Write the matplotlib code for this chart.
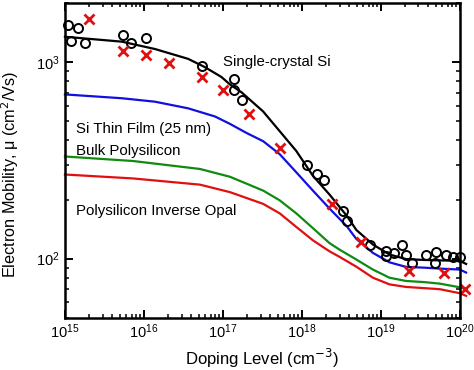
import numpy as np
import matplotlib
matplotlib.use("Agg")
import matplotlib.pyplot as plt
from matplotlib.ticker import LogLocator, NullFormatter

plt.rcParams['font.family'] = ['Liberation Sans', 'DejaVu Sans']

# measured single-crystal Si (circles), log10 of doping level and mobility
circ_logN = [15.04, 15.17, 15.08, 15.25, 15.73, 15.84, 16.03, 16.74, 17.14, 17.14,
             17.24, 18.07, 18.19, 18.28, 18.52, 18.57, 18.86, 19.06, 19.07, 19.17,
             19.27, 19.32, 19.40, 19.57, 19.68, 19.70, 19.82, 19.92, 20.00]
circ_mu = [1540, 1500, 1275, 1245, 1371, 1250, 1320, 955, 825, 722,
           644, 301, 269, 252, 174, 155, 117, 109, 103.5, 107,
           117, 105, 95, 105, 95, 108, 105, 102, 102]

# second data set (red crosses)
cross_logN = [15.30, 15.73, 16.03, 16.32, 16.73, 17.00, 17.33, 17.72, 18.38, 18.75,
              19.36, 19.80, 20.07]
cross_mu = [1653, 1136, 1088, 991, 841, 722, 546, 366, 190, 122, 87, 84.7, 70.5]

# model curves
sc_logN = [15.0, 15.72, 16.14, 16.56, 16.77, 16.98, 17.09, 17.24, 17.51, 17.72,
           17.93, 18.14, 18.35, 18.57, 18.69, 18.90, 19.11, 19.32, 19.55, 19.75,
           20.0, 20.08]
sc_mu = [1346, 1271, 1166, 1039, 944, 841, 770, 700, 561, 445,
         353, 264, 212, 165, 140, 118, 105, 99.5, 98.5, 98,
         97.5, 94]

tf_logN = [15.0, 15.72, 16.14, 16.56, 16.90, 17.09, 17.30, 17.51, 17.72, 17.93,
           18.14, 18.35, 18.57, 18.69, 18.90, 19.11, 19.32, 19.55, 19.75, 20.0, 20.08]
tf_mu = [685, 655, 629, 582, 529, 485, 436, 396, 340, 275,
         222, 180, 146, 126, 107, 95.8, 90.8, 90, 89, 88, 85]

bulk_logN = [15.0, 15.86, 16.71, 17.09, 17.51, 17.72, 17.93, 18.14, 18.35, 18.48,
             18.69, 18.90, 19.11, 19.32, 19.55, 19.75, 20.0, 20.08]
bulk_mu = [331, 314, 286, 261, 222, 198, 170, 143, 120, 111,
           99, 88, 80, 77, 76, 74.6, 71.5, 70]

opal_logN = [15.0, 15.86, 16.71, 17.09, 17.51, 17.72, 17.93, 18.14, 18.35, 18.48,
             18.69, 18.90, 19.11, 19.32, 19.55, 19.75, 20.0, 20.08]
opal_mu = [268, 256, 238, 218, 190, 170, 145, 124, 109, 102,
           91, 80, 74, 71.8, 70.8, 69.9, 66.7, 64.7]

fig = plt.figure(figsize=(4.74, 3.70), dpi=100)
ax = fig.add_axes([0.137, 0.141, 0.833, 0.851])

def tenpow(v):
    return 10.0 ** np.array(v)

ax.plot(tenpow(sc_logN), sc_mu, color='black', lw=1.6, clip_on=False)
ax.plot(tenpow(tf_logN), tf_mu, color='#1010e0', lw=1.6, clip_on=False)
ax.plot(tenpow(bulk_logN), bulk_mu, color='#108a10', lw=1.6, clip_on=False)
ax.plot(tenpow(opal_logN), opal_mu, color='#e01010', lw=1.6, clip_on=False)

ax.plot(tenpow(circ_logN), circ_mu, 'o', mfc='none', mec='black', ms=6.5, mew=1.4,
        clip_on=False)
ax.plot(tenpow(cross_logN), cross_mu, 'x', color='#e01010', ms=7, mew=2,
        clip_on=False)

ax.set_xscale('log')
ax.set_yscale('log')
ax.set_xlim(1e15, 1e20)
ax.set_ylim(50, 2000)

ax.xaxis.set_major_locator(LogLocator(base=10, numticks=10))
ax.xaxis.set_minor_locator(LogLocator(base=10, subs=np.arange(2, 10), numticks=10))
ax.yaxis.set_minor_locator(LogLocator(base=10, subs=np.arange(2, 10), numticks=10))
ax.yaxis.set_minor_formatter(NullFormatter())
ax.tick_params(which='both', direction='in', top=True, right=True, labelsize=10.5)
ax.tick_params(which='major', length=6, width=1.4)
ax.tick_params(which='minor', length=3, width=1.1)
for s in ax.spines.values():
    s.set_linewidth(1.8)

ax.set_xlabel('Doping Level (cm$^{-3}$)', fontsize=12)
ax.set_ylabel('Electron Mobility, \u03bc (cm$^2$/Vs)', fontsize=11.7)
ax.yaxis.set_label_coords(-0.112, 0.454)

ax.text(1e17, 1000, 'Single-crystal Si', fontsize=10.8, va='center')
ax.text(1.38e15, 455, 'Si Thin Film (25 nm)', fontsize=10.8, va='center')
ax.text(1.38e15, 353, 'Bulk Polysilicon', fontsize=10.8, va='center')
ax.text(1.38e15, 174, 'Polysilicon Inverse Opal', fontsize=10.8, va='center')

fig.savefig('out.png', dpi=100)
